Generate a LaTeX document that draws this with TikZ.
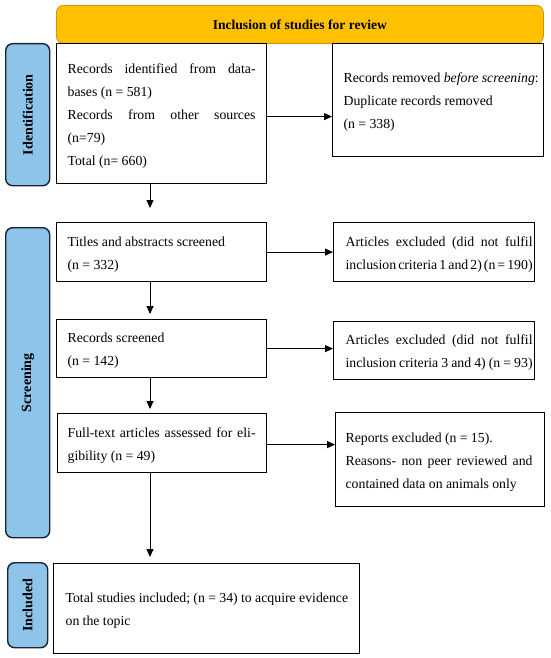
\documentclass[tikz,border=0pt]{standalone}
\usepackage{fontspec}
\setmainfont{Liberation Serif}
\usetikzlibrary{arrows.meta}
\definecolor{headfill}{RGB}{255,192,0}
\definecolor{headline}{RGB}{214,150,0}
\definecolor{sidefill}{RGB}{142,196,233}
\definecolor{sideline}{RGB}{25,35,50}
\newcommand\jl[1]{\hbox to\hsize{\spaceskip=\fontdimen2\font plus 1fil minus 0.45\fontdimen2\font\relax #1}}
\newcommand\rl[1]{\hbox{#1}}
\newcommand\bt[3]{\hspace*{#1}\parbox{#2}{\fontsize{13.8}{23}\selectfont\vskip5pt #3}}
\begin{document}
\begin{tikzpicture}[x=1pt,y=-1pt,
  box/.style={draw=black, line width=1.2pt, fill=white, inner sep=0pt, anchor=north west, align=left},
  head/.style={draw=headline, line width=0.8pt, fill=headfill, rounded corners=7pt, inner sep=0pt, anchor=north west, font=\fontsize{13.6}{15}\selectfont\bfseries},
  side/.style={draw=sideline, line width=1.4pt, fill=sidefill, rounded corners=7pt, inner sep=0pt, anchor=north west, font=\fontsize{14}{15}\selectfont\bfseries},
  arr/.style={line width=0.9pt, -{Triangle[length=8pt,width=7pt]}}]
\useasboundingbox (0,0) rectangle (550,658);
\fill[white] (0,0) rectangle (550,658);
\coordinate (vx) at (150,0);
% header
\node[head, minimum width=487pt, minimum height=38pt] (hd) at (56,5) {Inclusion of studies for review};
% side labels
\node[side, minimum width=44pt, minimum height=142pt] (ident) at (5,43) {\rotatebox{90}{Identification}};
\node[side, minimum width=44pt, minimum height=310pt] (scr) at (5,227) {\rotatebox{90}{Screening}};
\node[side, minimum width=40pt, minimum height=85pt] (incl) at (7,562) {\rotatebox{90}{Included}};
% boxes
\node[box, text width=210pt, minimum height=140pt] (b1) at (56,43)
  {\bt{11pt}{188pt}{\jl{Records identified from data-}\rl{bases (n = 581)}\jl{Records from other sources}\rl{(n=79)}\rl{Total (n= 660)}}};
\node[box, text width=211pt, minimum height=113pt] (r1) at (332,43)
  {\bt{11pt}{195pt}{\rl{Records removed \textit{before screening}:}\rl{Duplicate records removed}\rl{(n = 338)}}};
\node[box, text width=210pt, minimum height=59pt] (b2) at (56,222)
  {\bt{11pt}{188pt}{\rl{Titles and abstracts screened}\rl{(n = 332)}}};
\node[box, text width=201pt, minimum height=59pt] (r2) at (333,222)
  {\bt{12pt}{187pt}{\jl{Articles excluded (did not fulfil}\jl{inclusion criteria 1 and 2) (n = 190)}}};
\node[box, text width=210pt, minimum height=58pt] (b3) at (56,319)
  {\bt{11pt}{188pt}{\rl{Records screened}\rl{(n = 142)}}};
\node[box, text width=201pt, minimum height=58pt] (r3) at (333,321)
  {\bt{12pt}{187pt}{\jl{Articles excluded (did not fulfil}\jl{inclusion criteria 3 and 4) (n = 93)}}};
\node[box, text width=209pt, minimum height=59pt] (b4) at (57,413)
  {\bt{10pt}{188pt}{\jl{Full-text articles assessed for eli-}\rl{gibility (n = 49)}}};
\node[box, text width=209pt, minimum height=94pt] (r4) at (335,412)
  {\bt{10pt}{187pt}{\rl{Reports excluded (n = 15).}\jl{Reasons- non peer reviewed and}\rl{contained data on animals only}}};
\node[box, text width=306pt, minimum height=90pt] (b5) at (53,563)
  {\bt{12pt}{290pt}{\rl{Total studies included; (n = 34) to acquire evidence}\rl{on the topic}}};
% horizontal arrows
\draw[arr] ([yshift=-3pt]b1.east) -- ([yshift=-3pt]b1.east -| r1.west);
\draw[arr] (b2.east) -- (b2.east -| r2.west);
\draw[arr] (b3.east) -- (b3.east -| r3.west);
\draw[arr] ([yshift=-1.5pt]b4.east) -- ([yshift=-1.5pt]b4.east -| r4.west);
% vertical arrows
\draw[arr, shorten >=14pt] (b1.south -| vx) -- (b2.north -| vx);
\draw[arr, shorten >=5pt] (b2.south -| vx) -- (b3.north -| vx);
\draw[arr, shorten >=4pt] (b3.south -| vx) -- (b4.north -| vx);
\draw[arr, shorten >=6pt] (b4.south -| vx) -- (b5.north -| vx);
\end{tikzpicture}
\end{document}
